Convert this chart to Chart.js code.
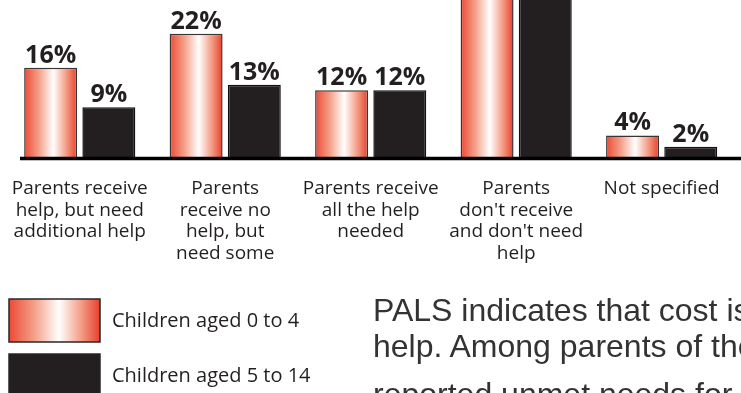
<!DOCTYPE html>
<html>
<head>
<meta charset="utf-8">
<script src="https://cdn.jsdelivr.net/npm/chart.js@4/dist/chart.umd.min.js"></script>
<style>
  html, body { margin: 0; padding: 0; background: #fff; }
  #wrap { position: relative; width: 741px; height: 393px; overflow: hidden; background: #fff; }
  #chart { position: absolute; left: 0; top: 0; }
  .note {
    position: absolute; left: 373px; margin: 0;
    font-family: "Liberation Sans", Arial, sans-serif; font-size: 32px; line-height: 36px;
    color: #333; white-space: nowrap;
  }
</style>
</head>
<body>
<div id="wrap">
  <canvas id="chart" width="741" height="393"></canvas>
  <p class="note" style="top:292px">PALS indicates that cost is the most<br>help. Among parents of the children</p>
  <p class="note" style="top:376px">reported unmet needs for</p>
</div>
<script>
// Help received by parents for children with disabilities, by child age group (%)
const categories = [
  ["Parents receive", "help, but need", "additional help"],
  ["Parents", "receive no", "help, but", "need some"],
  ["Parents receive", "all the help", "needed"],
  ["Parents", "don't receive", "and don't need", "help"],
  ["Not specified"]
];
const seriesNames = ["Children aged 0 to 4", "Children aged 5 to 14"];
const age0to4 = [16, 22, 12, 46, 4];
const age5to14 = [9, 13, 12, 64, 2];
const valueSuffix = "%";

const INK = "#231f20";
const FONT = "'Open Sans', 'Noto Sans', sans-serif";
const CAT_PCT = 0.8;
const BAR_PCT = 0.91;

function warmGradient(ctx, x0, x1) {
  const g = ctx.createLinearGradient(x0, 0, x1, 0);
  g.addColorStop(0, "#ec4a35");
  g.addColorStop(0.28, "#f5a089");
  g.addColorStop(0.55, "#ffffff");
  g.addColorStop(0.8, "#f39a83");
  g.addColorStop(1, "#e73f2b");
  return g;
}

// per-bar horizontal gradient, positioned from the category scale
function warmFill(c) {
  const xs = c.chart.scales.x;
  if (!xs || c.type !== "data" || c.dataIndex === undefined) return "#f08a75";
  const step = xs.getPixelForValue(1) - xs.getPixelForValue(0);
  const slot = step * CAT_PCT / 2;
  const w = slot * BAR_PCT;
  const cx = xs.getPixelForValue(c.dataIndex) - slot / 2;
  if (!isFinite(cx) || !isFinite(w) || w <= 0) return "#f08a75";
  return warmGradient(c.chart.ctx, cx - w / 2, cx + w / 2);
}

const decorations = {
  id: "decorations",
  afterDatasetsDraw(chart) {
    const { ctx, chartArea } = chart;
    const ys = chart.scales.y;
    const base = ys.getPixelForValue(0);

    // value labels above each bar
    ctx.save();
    ctx.fillStyle = INK;
    ctx.font = "bold 25px " + FONT;
    ctx.textAlign = "center";
    ctx.textBaseline = "alphabetic";
    chart.data.datasets.forEach((ds, di) => {
      chart.getDatasetMeta(di).data.forEach((bar, i) => {
        const y = bar.y - 5;
        if (y > 10) ctx.fillText(ds.data[i] + valueSuffix, bar.x, y);
      });
    });
    ctx.restore();

    // baseline
    ctx.save();
    ctx.strokeStyle = "#000";
    ctx.lineWidth = 3.5;
    ctx.beginPath();
    ctx.moveTo(chartArea.left + 13, base + 0.5);
    ctx.lineTo(chart.width, base + 0.5);
    ctx.stroke();
    ctx.restore();
  },
  afterDraw(chart) {
    // legend: stacked swatches bottom-left
    const { ctx } = chart;
    const items = [
      { name: seriesNames[0], fill: warmGradient(ctx, 9, 100) },
      { name: seriesNames[1], fill: INK }
    ];
    ctx.save();
    items.forEach((it, k) => {
      const top = 299 + k * 55;
      ctx.fillStyle = it.fill;
      ctx.fillRect(9, top, 91, 43);
      ctx.strokeStyle = "#2a2626";
      ctx.lineWidth = 1.5;
      ctx.strokeRect(9, top, 91, 43);
      ctx.fillStyle = INK;
      ctx.font = "20px " + FONT;
      ctx.textAlign = "left";
      ctx.textBaseline = "middle";
      ctx.fillText(it.name, 112, top + 22);
    });
    ctx.restore();
  }
};

new Chart(document.getElementById("chart"), {
  type: "bar",
  data: {
    labels: categories,
    datasets: [
      {
        label: seriesNames[0],
        data: age0to4,
        backgroundColor: warmFill,
        borderColor: "#3a3333",
        borderWidth: 1.5,
        categoryPercentage: CAT_PCT,
        barPercentage: BAR_PCT
      },
      {
        label: seriesNames[1],
        data: age5to14,
        backgroundColor: INK,
        borderColor: "#111",
        borderWidth: 1.5,
        categoryPercentage: CAT_PCT,
        barPercentage: BAR_PCT
      }
    ]
  },
  options: {
    responsive: false,
    animation: false,
    devicePixelRatio: 1,
    layout: { padding: { left: 7, right: 6.6, top: 0, bottom: 0 } },
    plugins: { legend: { display: false }, tooltip: { enabled: false } },
    scales: {
      x: {
        grid: { display: false, drawTicks: false },
        border: { display: false },
        ticks: {
          color: INK,
          font: { family: FONT, size: 19, lineHeight: 1.13 },
          padding: 20,
          maxRotation: 0,
          autoSkip: false
        },
        afterFit(scale) {
          scale.height = 235;
          scale.paddingLeft = 0;
          scale.paddingRight = 0;
        }
      },
      y: { display: false, min: 0, max: 28 }
    }
  },
  plugins: [decorations]
});
</script>
</body>
</html>
